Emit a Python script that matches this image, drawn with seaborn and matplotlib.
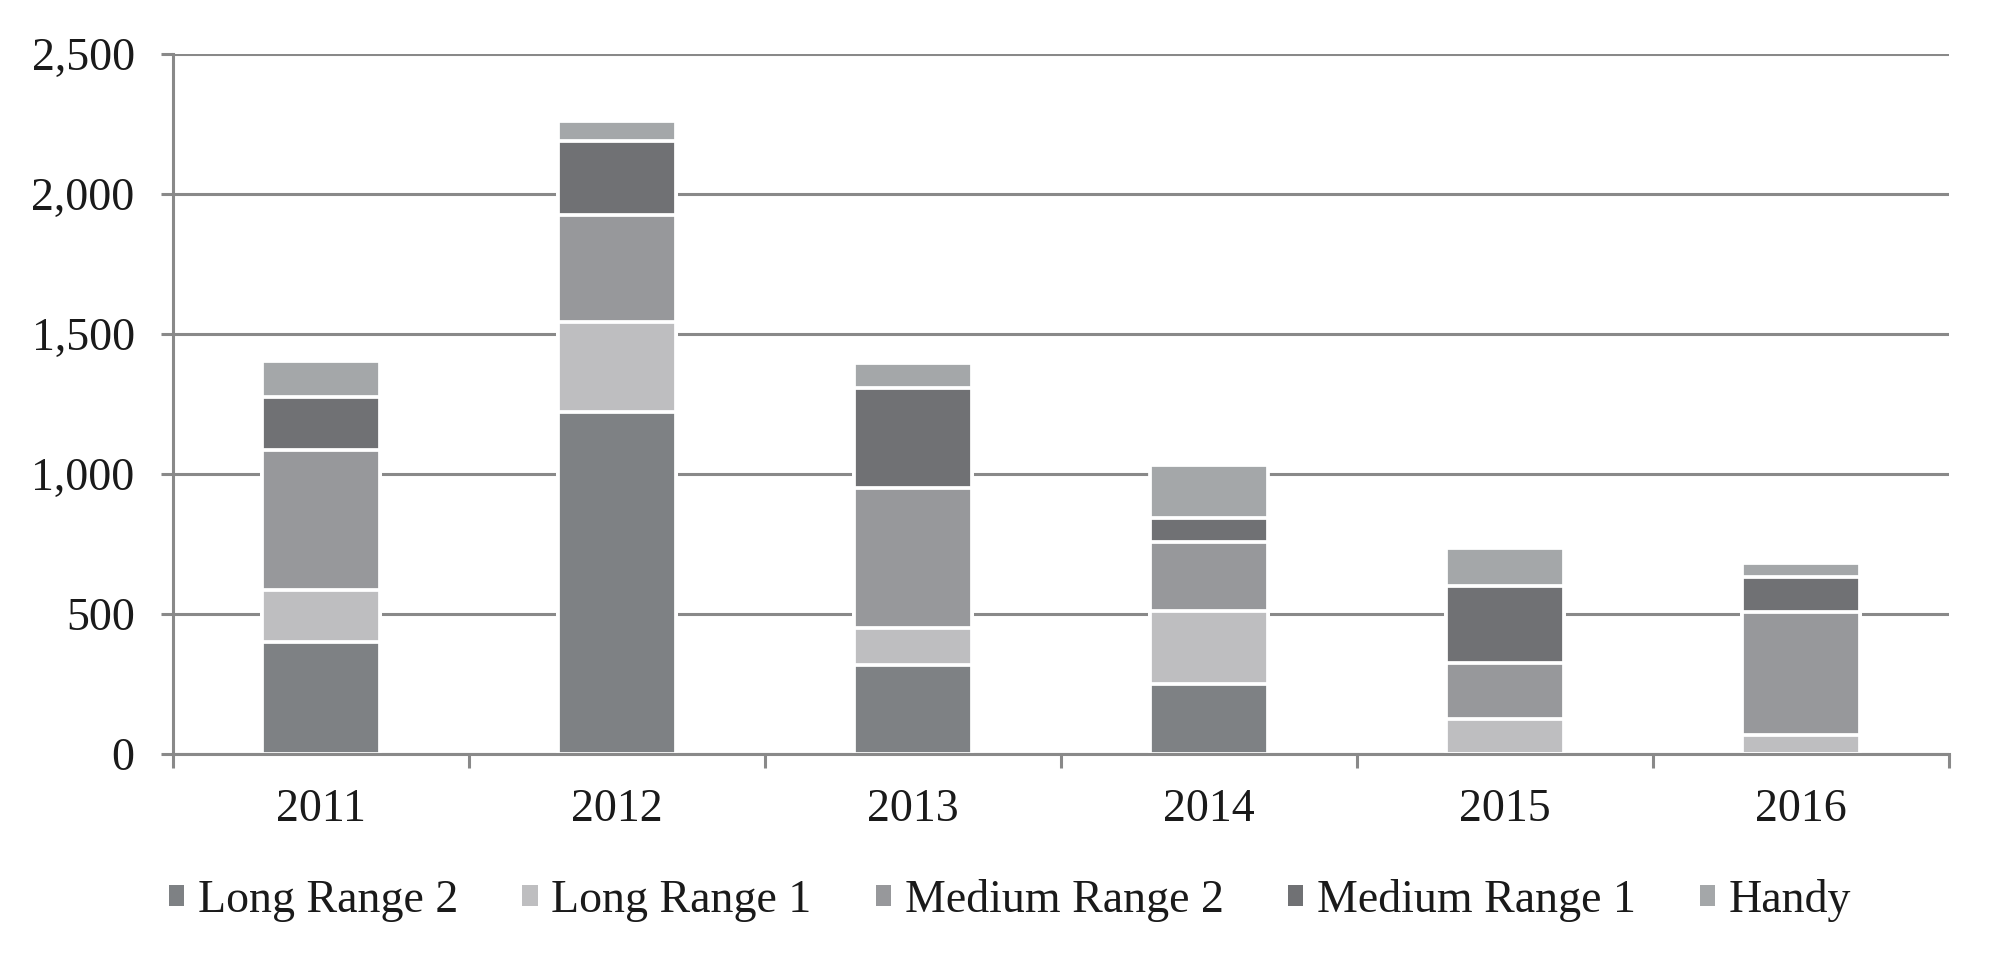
import numpy as np
import matplotlib
matplotlib.use("Agg")
import matplotlib.pyplot as plt
from matplotlib.patches import Patch
from matplotlib.ticker import FuncFormatter
import seaborn as sns

years = ["2011", "2012", "2013", "2014", "2015", "2016"]
series = ["Long Range 2", "Long Range 1", "Medium Range 2", "Medium Range 1", "Handy"]

long_range_2 = [398, 1222, 319, 250, 0, 0]
long_range_1 = [186, 320, 132, 262, 126, 68]
medium_range_2 = [502, 381, 497, 244, 200, 439]
medium_range_1 = [187, 266, 360, 88, 274, 124]
handy = [131, 70, 86, 188, 136, 50]

colors = ["#7e8184", "#bebec0", "#97989b", "#707174", "#a4a7a9"]

sns.set_theme(style="white")
plt.rcParams["font.family"] = ["Liberation Serif", "DejaVu Serif"]

grey = "#898989"
text_col = "#1a1a1a"
fsize = 33

fig = plt.figure(figsize=(20, 9.69), dpi=100)
ax = fig.add_axes([0.0865, 0.2219, 0.888, 0.7228])

# stacked bars: draw cumulative totals from the top layer down
stack = np.array([long_range_2, long_range_1, medium_range_2, medium_range_1, handy])
cum = np.cumsum(stack, axis=0)
for i in range(len(series) - 1, -1, -1):
    sns.barplot(x=years, y=cum[i], color=colors[i], saturation=1, width=0.40,
                edgecolor="white", linewidth=2.7, errorbar=None, ax=ax)

ax.set_xlim(-0.5, 5.5)
ax.set_ylim(0, 2500)
ax.set_yticks(range(0, 2501, 500))
ax.yaxis.set_major_formatter(FuncFormatter(lambda v, p: f"{v:,.0f}"))
ax.set_xlabel("")
ax.set_ylabel("")

ax.set_axisbelow(True)
ax.grid(axis="y", color=grey, linewidth=2.2)
ax.grid(axis="x", visible=False)

for side in ["top", "right"]:
    ax.spines[side].set_visible(False)
for side in ["left", "bottom"]:
    ax.spines[side].set_color(grey)
    ax.spines[side].set_linewidth(2.2)

ax.set_xticks(np.arange(-0.5, 6, 1), minor=True)
ax.tick_params(axis="x", which="major", length=0, pad=25, labelsize=fsize, labelcolor=text_col)
ax.tick_params(axis="x", which="minor", length=10, width=2.2, color=grey, direction="out", bottom=True)
ax.tick_params(axis="y", which="major", length=8.6, width=2.2, color=grey, direction="out",
               left=True, pad=19, labelsize=fsize, labelcolor=text_col)

handles = [Patch(facecolor=c, edgecolor="none") for c in colors]
fig.legend(handles, series, loc="center", bbox_to_anchor=(0.505, 0.071), ncol=5,
           frameon=False, fontsize=fsize, handlelength=0.33, handleheight=0.33,
           handletextpad=0.3, columnspacing=1.4, labelcolor=text_col)

fig.savefig("out.png", dpi=100)
